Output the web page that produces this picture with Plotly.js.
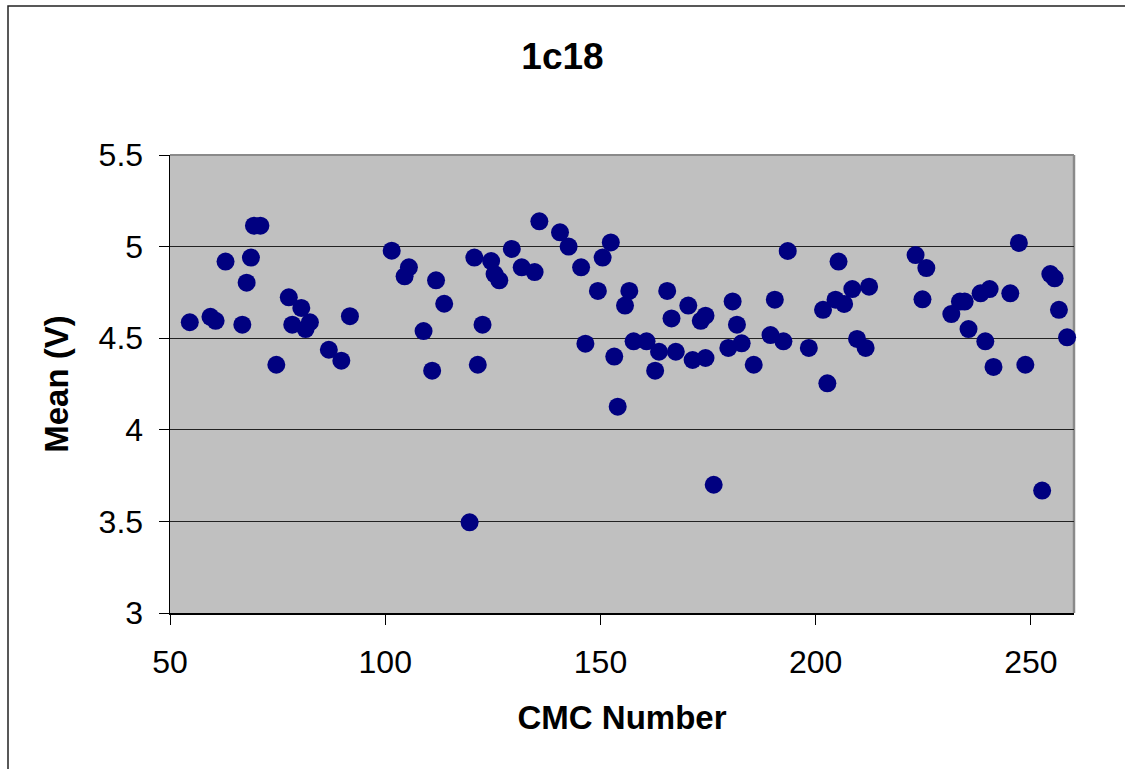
<!DOCTYPE html>
<html>
<head>
<meta charset="utf-8">
<script src="https://cdn.plot.ly/plotly-3.0.1.min.js"></script>
<style>
html,body{margin:0;padding:0;background:#fff;}
#chart{width:1125px;height:769px;}
</style>
</head>
<body>
<div id="chart"></div>
<script>
const chartTitle = "1c18";
const xTitle = "CMC Number";
const yTitle = "Mean (V)";

const cmcNumber = [
  54.6, 59.4, 60.6, 62.9, 66.8, 67.8, 68.8, 69.5, 71.0, 74.7,
  77.6, 78.4, 80.5, 81.5, 82.5, 86.9, 89.8, 91.8, 101.5, 104.5,
  105.5, 108.9, 110.9, 111.8, 113.7, 119.6, 120.7, 121.5, 122.6, 124.6,
  125.4, 126.5, 129.4, 131.7, 134.7, 135.8, 140.6, 142.6, 145.5, 146.5,
  149.4, 150.5, 152.4, 153.2, 154.0, 155.7, 156.7, 157.7, 160.7, 162.7,
  163.6, 165.5, 166.5, 167.5, 170.4, 171.4, 173.3, 174.4, 174.4, 176.3,
  179.7, 180.7, 181.7, 182.8, 185.6, 189.5, 190.5, 192.5, 193.5, 198.4,
  201.7, 202.7, 204.6, 205.3, 206.6, 208.5, 209.6, 211.6, 212.4, 223.2,
  224.8, 225.7, 231.5, 233.5, 234.6, 235.5, 238.3, 239.4, 240.4, 241.3,
  245.2, 247.2, 248.7, 252.6, 254.5, 255.5, 256.5, 258.4
];
const meanV = [
  4.587, 4.617, 4.595, 4.918, 4.574, 4.803, 4.940, 5.114, 5.114, 4.355,
  4.723, 4.574, 4.665, 4.550, 4.587, 4.437, 4.377, 4.620, 4.978, 4.838,
  4.887, 4.539, 4.323, 4.816, 4.688, 3.495, 4.940, 4.355, 4.574, 4.921,
  4.850, 4.816, 4.987, 4.887, 4.861, 5.138, 5.078, 5.000, 4.887, 4.470,
  4.758, 4.940, 5.023, 4.400, 4.126, 4.678, 4.758, 4.483, 4.483, 4.323,
  4.426, 4.758, 4.608, 4.426, 4.678, 4.381, 4.595, 4.623, 4.392, 3.700,
  4.447, 4.701, 4.574, 4.472, 4.355, 4.517, 4.710, 4.483, 4.976, 4.447,
  4.655, 4.254, 4.710, 4.918, 4.687, 4.768, 4.496, 4.447, 4.781, 4.954,
  4.712, 4.883, 4.632, 4.700, 4.700, 4.550, 4.745, 4.483, 4.768, 4.343,
  4.745, 5.020, 4.355, 3.668, 4.850, 4.827, 4.655, 4.505
];

const xTickVals = [50, 100, 150, 200, 250];
const yTickVals = [3, 3.5, 4, 4.5, 5, 5.5];

const font = "Liberation Sans, Arial, sans-serif";

const trace = {
  type: "scatter",
  mode: "markers",
  x: cmcNumber,
  y: meanV,
  cliponaxis: false,
  marker: {size: 18, color: "#000080", line: {width: 0}},
  hoverinfo: "x+y"
};

const layout = {
  width: 1125,
  height: 769,
  margin: {l: 170, r: 51, t: 155, b: 156},
  paper_bgcolor: "#ffffff",
  plot_bgcolor: "#c0c0c0",
  showlegend: false,
  font: {family: font, color: "#000"},
  title: {
    text: "<b>" + chartTitle + "</b>",
    font: {family: font, size: 37, color: "#000"},
    xref: "container", x: 0.5, xanchor: "center",
    yref: "container", y: 1 - 56/769, yanchor: "middle"
  },
  xaxis: {
    range: [50, 260],
    tickvals: xTickVals,
    ticks: "outside", ticklen: 10, tickwidth: 1, tickcolor: "#000",
    showline: true, linecolor: "#000", linewidth: 1.5,
    showgrid: false, zeroline: false,
    tickfont: {family: font, size: 32, color: "#000"},
    ticklabelstandoff: 10,
    title: {text: "<b>" + xTitle + "</b>", font: {family: font, size: 33, color: "#000"}, standoff: 27}
  },
  yaxis: {
    range: [3, 5.5],
    tickvals: yTickVals,
    ticks: "outside", ticklen: 10, tickwidth: 1, tickcolor: "#000",
    showline: true, linecolor: "#000", linewidth: 1.5,
    showgrid: true, gridcolor: "#222", gridwidth: 1,
    zeroline: false,
    tickfont: {family: font, size: 32, color: "#000"},
    ticklabelstandoff: 9,
    title: {text: "<b>" + yTitle + "</b>", font: {family: font, size: 33, color: "#000"}, standoff: 20}
  },
  shapes: [
    {type: "line", xref: "x domain", yref: "y domain", x0: 0, x1: 1, y0: 1, y1: 1,
     line: {color: "#8a8a8a", width: 2}, layer: "below"},
    {type: "line", xref: "x domain", yref: "y domain", x0: 1, x1: 1, y0: 0, y1: 1,
     line: {color: "#8a8a8a", width: 2.5}, layer: "below"},
    {type: "rect", xref: "paper", yref: "paper",
     x0: (8 - 170) / 904, x1: (1140 - 170) / 904,
     y0: (613 - 790) / 458, y1: (613 - 6) / 458,
     line: {color: "#222", width: 1.5}, fillcolor: "rgba(0,0,0,0)", layer: "above"}
  ]
};

Plotly.newPlot("chart", [trace], layout, {displayModeBar: false, staticPlot: true});
</script>
</body>
</html>
